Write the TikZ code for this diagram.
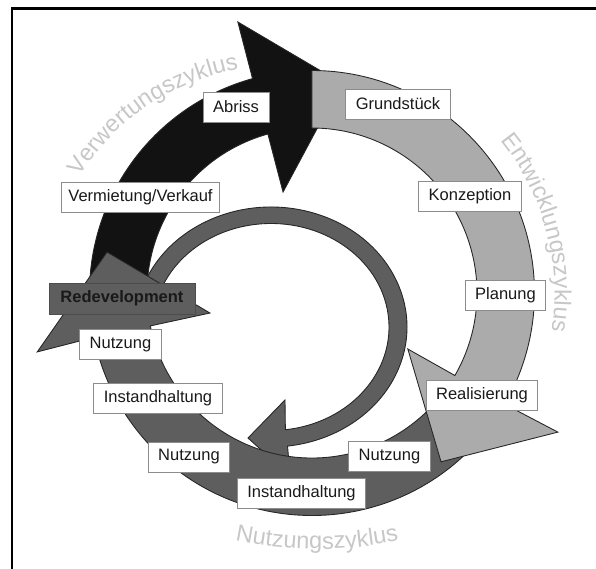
\documentclass[tikz,border=0pt]{standalone}
\usepackage{fontspec}
\setmainfont{Liberation Sans}
\usetikzlibrary{decorations.text}
\definecolor{lightarc}{gray}{0.67}
\definecolor{darkarc}{gray}{0.37}
\definecolor{namegray}{gray}{0.78}

\begin{document}
\begin{tikzpicture}[
  stepbox/.style={draw=black!45, line width=0.5pt, fill=white, minimum height=0.6cm,
    inner xsep=0.2cm, text=black!90, font=\fontsize{9.4}{11}\selectfont},
  arcedge/.style={draw=black!85, line width=0.5pt}
]
\def\ri{3.3}
\def\ro{4.45}
\useasboundingbox (-6.24,-5.5) rectangle (5.68,5.86);

% frame
\draw[line width=1.6pt] (-6.0,-5.6) -- (-6.0,5.69) -- (5.8,5.69);

% inner ring
\begin{scope}[shift={(-0.82,-0.68)}]
\filldraw[arcedge, fill=darkarc] (160:2.72cm and 2.4cm) arc[start angle=160, end angle=-83, x radius=2.72, y radius=2.4]
  -- (0.38,-2.98) -- (-0.46,-2.22) -- (0.28,-1.46)
  -- (-83:2.36cm and 2.07cm) arc[start angle=-83, end angle=160, x radius=2.36, y radius=2.07] -- cycle;
\end{scope}

% Verwertung
\filldraw[arcedge, fill=black!93] (183:\ri) arc[start angle=183, end angle=105.5, radius=\ri]
  -- (106:2.1) -- (82:4.24) -- (105.3:5.62)
  -- (105.5:\ro) arc[start angle=105.5, end angle=183, radius=\ro] -- cycle;

% Nutzung
\filldraw[arcedge, fill=darkarc] (-40:\ro) arc[start angle=-40, end angle=-168.5, radius=\ro]
  -- (-167.9:5.62) -- (168.7:4.18) -- (-168.9:2.08)
  -- (-168.5:\ri) arc[start angle=-168.5, end angle=-40, radius=\ri] -- cycle;

% Entwicklung
\filldraw[arcedge, fill=lightarc] (90:\ro) arc[start angle=90, end angle=-30, radius=\ro]
  -- (-29.5:5.65) -- (-52.6:4.25) -- (-30.3:2.22)
  -- (-30:\ri) arc[start angle=-30, end angle=90, radius=\ri] -- cycle;

% steps
\node[stepbox] (abriss) at (-1.52,3.72) {Abriss};
\node[stepbox, inner xsep=0.13cm] (verm) at (-3.43,1.91) {Vermietung/Verkauf};
\node[stepbox] (grund) at (1.72,3.78) {Grundstück};
\node[stepbox] (konz) at (3.16,1.94) {Konzeption};
\node[stepbox] (plan) at (3.87,-0.05) {Planung};
\node[stepbox] (real) at (3.4,-2.04) {Realisierung};
\node[stepbox] (nutzR) at (1.55,-3.27) {Nutzung};
\node[stepbox] (instB) at (-0.21,-4.0) {Instandhaltung};
\node[stepbox] (nutzB) at (-2.46,-3.28) {Nutzung};
\node[stepbox] (instL) at (-3.08,-2.11) {Instandhaltung};
\node[stepbox] (nutzL) at (-3.83,-1.03) {Nutzung};
\node[stepbox, fill=darkarc, draw=black!70, inner xsep=0.23cm, minimum height=0.62cm,
  font=\fontsize{9.4}{11}\selectfont\bfseries] (redev) at (-3.8,-0.11) {Redevelopment};

% cycle names
\begin{scope}[shift={(-0.66,-0.16)}]
\path[decorate, decoration={text along path, text align=center,
  text={|\fontsize{13.4}{16}\selectfont\color{namegray}|Verwertungszyklus}}]
  (160:4.7) arc[start angle=160, end angle=88, radius=4.7];
\end{scope}
\path[decorate, decoration={text along path, text align=center,
  text={|\fontsize{13.4}{16}\selectfont\color{namegray}|Entwicklungszyklus}}]
  (60:4.85) arc[start angle=60, end angle=-30, radius=4.85];
\begin{scope}[shift={(0.1,3.0)}]
\path[decorate, decoration={text along path, text align=center,
  text={|\fontsize{13.4}{16}\selectfont\color{namegray}|Nutzungszyklus}}]
  (250:8.12) arc[start angle=250, end angle=290, radius=8.12];
\end{scope}
\end{tikzpicture}
\end{document}
